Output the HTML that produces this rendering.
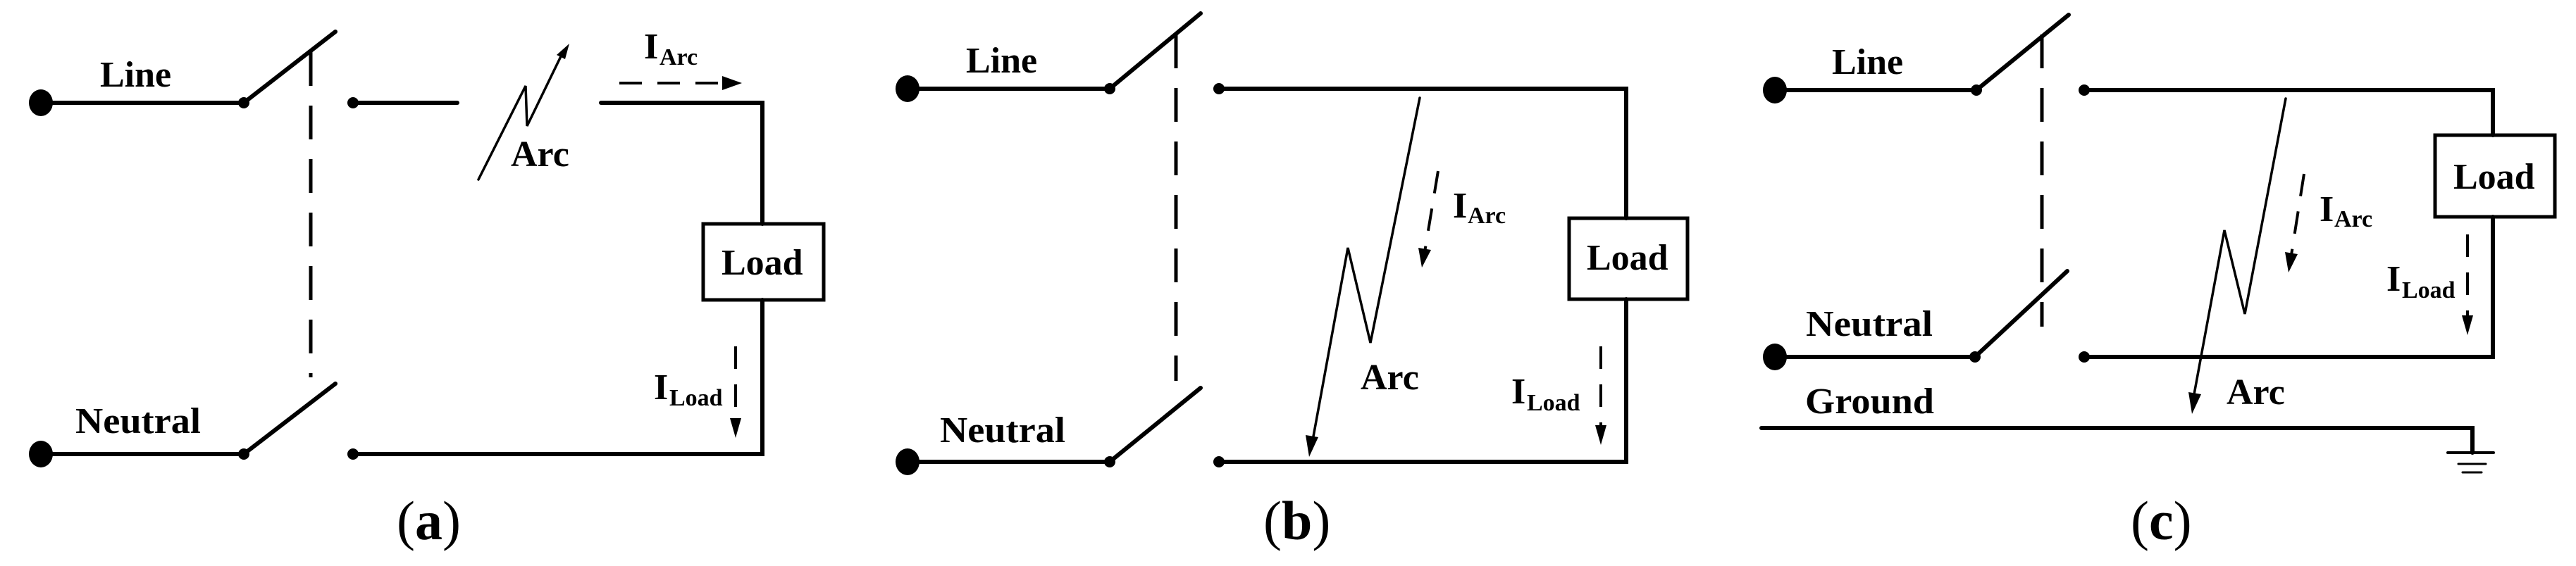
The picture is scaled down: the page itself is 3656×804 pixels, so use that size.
<!DOCTYPE html>
<html><head><meta charset="utf-8"><style>
html,body{margin:0;padding:0;background:#fff;}
svg{display:block;}
text{font-family:"Liberation Serif",serif;font-weight:bold;fill:#000;}
</style></head><body>
<svg width="3656" height="804" viewBox="0 0 3656 804" xmlns="http://www.w3.org/2000/svg">
<defs>
<marker id="ah" markerWidth="10" markerHeight="8" refX="9" refY="4" orient="auto" markerUnits="userSpaceOnUse" viewBox="0 0 10 8">
</marker>
</defs>
<g stroke="#000" fill="none" stroke-linecap="round">
<!-- ===== Panel (a) ===== -->
<g stroke-width="6">
<line x1="58" y1="146" x2="346" y2="146"/>
<line x1="346" y1="146" x2="476" y2="45"/>
<line x1="58" y1="645" x2="346" y2="645"/>
<line x1="346" y1="645" x2="476" y2="545"/>
<line x1="501" y1="146" x2="649" y2="146"/>
<polyline points="853,146 1082,146 1082,318"/>
<polyline points="1082,426 1082,645 501,645"/>
</g>
<line x1="441" y1="74" x2="441" y2="536" stroke-width="5" stroke-dasharray="48 28" stroke-linecap="butt"/>
<rect x="998" y="318" width="171" height="108" stroke-width="5"/>
<polyline points="679,255 746,122 748,179 797,78" stroke-width="3.5"/>
<line x1="879" y1="118" x2="1030" y2="118" stroke-width="4" stroke-dasharray="32 22" stroke-linecap="butt"/>
<line x1="1044" y1="492" x2="1044" y2="600" stroke-width="4" stroke-dasharray="32 22" stroke-linecap="butt"/>

<!-- ===== Panel (b) ===== -->
<g stroke-width="6">
<line x1="1288" y1="126" x2="1575" y2="126"/>
<line x1="1575" y1="126" x2="1704" y2="19"/>
<line x1="1288" y1="656" x2="1575" y2="656"/>
<line x1="1575" y1="656" x2="1704" y2="551"/>
<polyline points="1730,126 2308,126 2308,310"/>
<polyline points="2308,425 2308,656 1730,656"/>
</g>
<line x1="1669" y1="49" x2="1669" y2="541" stroke-width="5" stroke-dasharray="48 28" stroke-linecap="butt"/>
<rect x="2227" y="310" width="168" height="115" stroke-width="5"/>
<polyline points="2015,139 1945,487 1913,352 1864,620" stroke-width="3.5"/>
<line x1="2041" y1="243" x2="2022" y2="358" stroke-width="4" stroke-dasharray="32 22" stroke-linecap="butt"/>
<line x1="2272" y1="492" x2="2272" y2="608" stroke-width="4" stroke-dasharray="32 22" stroke-linecap="butt"/>

<!-- ===== Panel (c) ===== -->
<g stroke-width="6">
<line x1="2519" y1="128" x2="2805" y2="128"/>
<line x1="2805" y1="128" x2="2936" y2="21"/>
<line x1="2519" y1="507" x2="2803" y2="507"/>
<line x1="2803" y1="507" x2="2934" y2="385"/>
<polyline points="2958,128 3538,128 3538,192"/>
<polyline points="3538,308 3538,507 2958,507"/>
<polyline points="2500,608 3509,608 3509,643"/>
</g>
<line x1="3474" y1="643" x2="3539" y2="643" stroke-width="4"/>
<line x1="3489" y1="659" x2="3528" y2="659" stroke-width="3"/>
<line x1="3495" y1="671" x2="3522" y2="671" stroke-width="3"/>
<line x1="2898" y1="49" x2="2898" y2="464" stroke-width="5" stroke-dasharray="48 28" stroke-linecap="butt"/>
<rect x="3456" y="192" width="170" height="116" stroke-width="5"/>
<polyline points="3244,140 3186,446 3157,327 3114,560" stroke-width="3.5"/>
<line x1="3270" y1="247" x2="3252" y2="362" stroke-width="4" stroke-dasharray="32 22" stroke-linecap="butt"/>
<line x1="3502" y1="333" x2="3502" y2="452" stroke-width="4" stroke-dasharray="32 22" stroke-linecap="butt"/>
</g>

<g fill="#000">
<!-- dots (a) -->
<ellipse cx="58" cy="146" rx="17" ry="19"/><circle cx="346" cy="146" r="8"/><circle cx="501" cy="146" r="8"/>
<ellipse cx="58" cy="645" rx="17" ry="19"/><circle cx="346" cy="645" r="8"/><circle cx="501" cy="645" r="8"/>
<!-- dots (b) -->
<ellipse cx="1288" cy="126" rx="17" ry="19"/><circle cx="1575" cy="126" r="8"/><circle cx="1730" cy="126" r="8"/>
<ellipse cx="1288" cy="656" rx="17" ry="19"/><circle cx="1575" cy="656" r="8"/><circle cx="1730" cy="656" r="8"/>
<!-- dots (c) -->
<ellipse cx="2519" cy="128" rx="17" ry="19"/><circle cx="2805" cy="128" r="8"/><circle cx="2958" cy="128" r="8"/>
<ellipse cx="2519" cy="507" rx="17" ry="19"/><circle cx="2803" cy="507" r="8"/><circle cx="2958" cy="507" r="8"/>
<!-- arrowheads (a) -->
<polygon points="808,62 790,78 802,84"/>
<polygon points="1053,118 1025,108 1025,128"/>
<polygon points="1044,622 1036,594 1052,594"/>
<!-- arrowheads (b) -->
<polygon points="1858,649 1853,618 1871,621"/>
<polygon points="2018,380 2013,352 2031,355"/>
<polygon points="2272,632 2264,604 2280,604"/>
<!-- arrowheads (c) -->
<polygon points="3111,588 3106,557 3124,560"/>
<polygon points="3248,387 3243,358 3261,361"/>
<polygon points="3502,476 3494,448 3510,448"/>
</g>

<!-- Text (a) -->
<text x="142" y="123" font-size="52">Line</text>
<text x="107" y="615" font-size="52" textLength="178" lengthAdjust="spacingAndGlyphs">Neutral</text>
<text x="725" y="236" font-size="52">Arc</text>
<text x="1024" y="390" font-size="52">Load</text>
<text x="914" y="83" font-size="52">I</text><text x="936" y="92" font-size="34">Arc</text>
<text x="928" y="567" font-size="52">I</text><text x="950" y="576" font-size="34">Load</text>
<text x="563" y="766" font-size="78" style="font-weight:normal">(<tspan font-weight="bold">a</tspan>)</text>

<!-- Text (b) -->
<text x="1371" y="103" font-size="52">Line</text>
<text x="1334" y="628" font-size="52" textLength="178" lengthAdjust="spacingAndGlyphs">Neutral</text>
<text x="1931" y="553" font-size="52">Arc</text>
<text x="2252" y="383" font-size="52">Load</text>
<text x="2062" y="309" font-size="52">I</text><text x="2083" y="317" font-size="34">Arc</text>
<text x="2145" y="573" font-size="52">I</text><text x="2167" y="583" font-size="34">Load</text>
<text x="1793" y="766" font-size="78" style="font-weight:normal">(<tspan font-weight="bold">b</tspan>)</text>

<!-- Text (c) -->
<text x="2600" y="105" font-size="52">Line</text>
<text x="2563" y="477" font-size="52" textLength="180" lengthAdjust="spacingAndGlyphs">Neutral</text>
<text x="2562" y="587" font-size="52" textLength="183" lengthAdjust="spacingAndGlyphs">Ground</text>
<text x="3160" y="574" font-size="52">Arc</text>
<text x="3482" y="268" font-size="52">Load</text>
<text x="3292" y="314" font-size="52">I</text><text x="3313" y="322" font-size="34">Arc</text>
<text x="3387" y="413" font-size="52">I</text><text x="3409" y="423" font-size="34">Load</text>
<text x="3024" y="766" font-size="78" style="font-weight:normal">(<tspan font-weight="bold">c</tspan>)</text>
</svg>
</body></html>
